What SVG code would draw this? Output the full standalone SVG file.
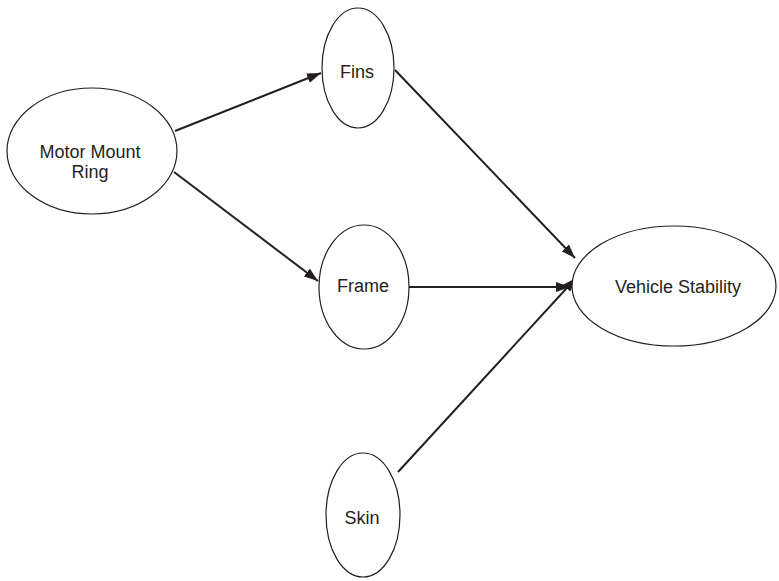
<svg xmlns="http://www.w3.org/2000/svg" width="779" height="581" viewBox="0 0 779 581">
  <style>
    .node ellipse { fill: #fff; stroke: #231f20; stroke-width: 1.2; }
    .node text { font-family: "Liberation Sans", Arial, sans-serif; font-size: 18px; fill: #231f20; text-anchor: middle; }
    .edge { stroke: #231f20; stroke-width: 2; fill: none; marker-end: url(#arrow); }
  </style>
  <defs>
    <marker id="arrow" viewBox="0 0 14 10" refX="14" refY="5" markerWidth="14" markerHeight="10" markerUnits="userSpaceOnUse" orient="auto">
      <path d="M0,0 L14,5 L0,10 Z" fill="#231f20"/>
    </marker>
  </defs>
  <rect width="779" height="581" fill="#fff"/>

  <g id="connectors">
    <line class="edge" x1="175" y1="131" x2="321" y2="73"/>
    <line class="edge" x1="174" y1="172" x2="318" y2="281"/>
    <line class="edge" x1="395" y1="70" x2="575" y2="258"/>
    <line class="edge" x1="409" y1="287" x2="570" y2="287"/>
    <line class="edge" x1="398" y1="472" x2="576" y2="278"/>
  </g>

  <g id="motor-mount-ring" class="node">
    <ellipse cx="92" cy="151" rx="85" ry="63"/>
    <text x="90" y="158">Motor Mount</text>
    <text x="90" y="178">Ring</text>
  </g>
  <g id="fins" class="node">
    <ellipse cx="358" cy="68" rx="36" ry="60"/>
    <text x="357" y="78">Fins</text>
  </g>
  <g id="frame" class="node">
    <ellipse cx="364" cy="287" rx="45" ry="62"/>
    <text x="363" y="292">Frame</text>
  </g>
  <g id="skin" class="node">
    <ellipse cx="363" cy="515" rx="37" ry="62"/>
    <text x="362" y="524">Skin</text>
  </g>
  <g id="vehicle-stability" class="node">
    <ellipse cx="674" cy="286" rx="102" ry="60"/>
    <text x="678" y="293">Vehicle Stability</text>
  </g>
</svg>
